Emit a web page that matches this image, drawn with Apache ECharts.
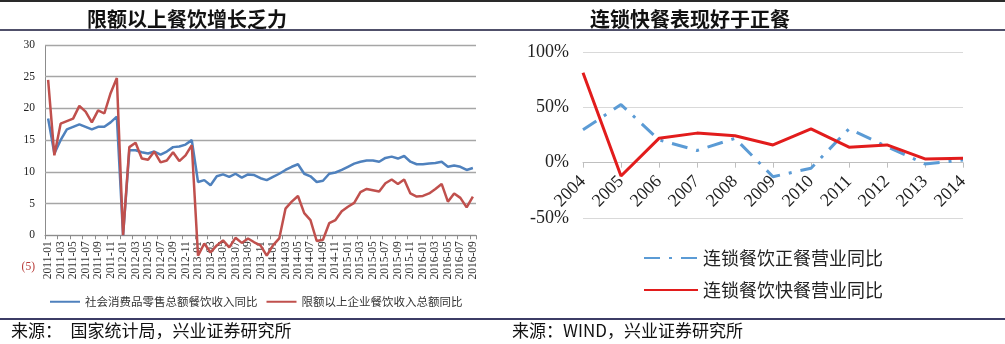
<!DOCTYPE html>
<html>
<head>
<meta charset="utf-8">
<script src="https://cdn.jsdelivr.net/npm/echarts@6/dist/echarts.min.js"></script>
<style>
  html, body { margin: 0; padding: 0; background: #fff; }
  #chart { width: 1005px; height: 344px; }
</style>
</head>
<body>
<div id="chart"></div>
<script>
// Monthly categories, 2011-01 .. 2016-09
const months = [
  '2011-01','2011-02','2011-03','2011-04','2011-05','2011-06','2011-07','2011-08','2011-09','2011-10','2011-11','2011-12',
  '2012-01','2012-02','2012-03','2012-04','2012-05','2012-06','2012-07','2012-08','2012-09','2012-10','2012-11','2012-12',
  '2013-01','2013-02','2013-03','2013-04','2013-05','2013-06','2013-07','2013-08','2013-09','2013-10','2013-11','2013-12',
  '2014-01','2014-02','2014-03','2014-04','2014-05','2014-06','2014-07','2014-08','2014-09','2014-10','2014-11','2014-12',
  '2015-01','2015-02','2015-03','2015-04','2015-05','2015-06','2015-07','2015-08','2015-09','2015-10','2015-11','2015-12',
  '2016-01','2016-02','2016-03','2016-04','2016-05','2016-06','2016-07','2016-08','2016-09'
];

// 社会消费品零售总额餐饮收入同比 (%)
const cateringTotal = [
  18.4, 12.9, 15.0, 16.7, 17.1, 17.5, 17.1, 16.7, 17.1, 17.1, 17.8, 18.7,
  0, 13.4, 13.4, 13.1, 12.9, 13.2, 12.7, 13.2, 13.9, 14.0, 14.3, 15.0,
  8.4, 8.7, 7.9, 9.3, 9.6, 9.2, 9.7, 9.1, 9.6, 9.5, 9.0, 8.7,
  9.2, 9.7, 10.3, 10.8, 11.2, 9.7, 9.3, 8.4, 8.6, 9.7, 9.9, 10.3,
  10.8, 11.3, 11.6, 11.8, 11.8, 11.6, 12.2, 12.4, 12.1, 12.5, 11.6, 11.2,
  11.2, 11.3, 11.4, 11.6, 10.8, 11.0, 10.8, 10.3, 10.6
];

// 限额以上企业餐饮收入总额同比 (%)
const cateringAbove = [
  24.5, 12.6, 17.6, 18.0, 18.4, 20.4, 19.5, 17.8, 19.7, 19.2, 22.4, 24.8,
  0, 13.9, 14.6, 12.1, 11.9, 13.2, 11.5, 11.8, 13.1, 11.7, 12.6, 14.2,
  -3.2, -1.3, -2.7, -1.6, -0.8, -1.9, -0.4, -1.2, -0.5, -1.1, -1.6, -3.2,
  -1.6, -0.5, 4.2, 5.3, 6.2, 3.5, 2.4, -0.9, -0.7, 1.9, 2.4, 3.8,
  4.5, 5.1, 6.8, 7.3, 7.1, 6.9, 8.2, 8.8, 8.1, 8.8, 6.6, 6.1,
  6.2, 6.6, 7.3, 8.1, 5.3, 6.6, 5.9, 4.4, 6.1
];

// Yearly categories for the chain-restaurant panel
const years = ['2004','2005','2006','2007','2008','2009','2010','2011','2012','2013','2014'];
// 连锁餐饮正餐营业同比 (%)
const chainFormal = [29.7, 52.5, 20.6, 11.0, 22.0, -12.7, -5.0, 30.6, 14.5, -1.2, 2.5];
// 连锁餐饮快餐营业同比 (%)
const chainFast = [81.3, -12.0, 22.0, 26.7, 24.3, 16.0, 30.6, 14.0, 16.0, 3.4, 4.0];

const SERIF = 'Liberation Serif';
const CJK = 'Noto Sans CJK SC';
const LEFT_GRID = { left: 45, top: 45, width: 431, height: 222 };
const RIGHT_GRID = { left: 583, top: 52, width: 380, height: 166 };
const LEFT_RANGE = { min: -5, max: 30, interval: 5 };
const RIGHT_RANGE = { min: -50, max: 100, interval: 50 };

// Category labels hang from the zero line, so pull them up by the
// distance between the grid bottom and zero on each panel.
const zeroGap = (grid, r) => grid.height * (0 - r.min) / (r.max - r.min);
const leftLabelMargin = 6 - zeroGap(LEFT_GRID, LEFT_RANGE);
const rightLabelMargin = 16 - zeroGap(RIGHT_GRID, RIGHT_RANGE);

const chart = echarts.init(document.getElementById('chart'), null, { renderer: 'canvas' });

const baseGraphics = [
  { id: 'topRule', type: 'line', shape: { x1: 0, y1: 1, x2: 1005, y2: 1 }, style: { stroke: '#2a2a2a', lineWidth: 2 } },
  { id: 'titleRule', type: 'line', shape: { x1: 0, y1: 30, x2: 1005, y2: 30 }, style: { stroke: '#50506a', lineWidth: 2 } },
  { id: 'footRule', type: 'line', shape: { x1: 0, y1: 319, x2: 1005, y2: 319 }, style: { stroke: '#3c3c66', lineWidth: 2 } },
  { id: 'srcLeft', type: 'text', left: 11, top: 322,
    style: { text: '来源：　国家统计局，兴业证券研究所', font: '17px "Noto Sans CJK SC"', fill: '#111' } },
  { id: 'srcRight', type: 'text', left: 512, top: 322,
    style: { text: '来源：WIND，兴业证券研究所', font: '17px "Noto Sans CJK SC"', fill: '#111' } }
];

const option = {
  animation: false,
  backgroundColor: '#fff',
  title: [
    { text: '限额以上餐饮增长乏力', left: 82, top: 4,
      textStyle: { fontFamily: CJK, fontSize: 20, fontWeight: 'bold', color: '#111' } },
    { text: '连锁快餐表现好于正餐', left: 585, top: 4,
      textStyle: { fontFamily: CJK, fontSize: 20, fontWeight: 'bold', color: '#111' } }
  ],
  legend: [
    {
      data: ['社会消费品零售总额餐饮收入同比', '限额以上企业餐饮收入总额同比'],
      left: 44, top: 291, itemWidth: 30, itemHeight: 12, itemGap: 8,
      itemStyle: { opacity: 0 },
      textStyle: { fontFamily: CJK, fontSize: 11.5, color: '#333' }
    },
    {
      data: ['连锁餐饮正餐营业同比', '连锁餐饮快餐营业同比'],
      orient: 'vertical', left: 638, top: 244, itemWidth: 54, itemHeight: 14, itemGap: 14,
      itemStyle: { opacity: 0 },
      textStyle: { fontFamily: CJK, fontSize: 18, color: '#222' }
    }
  ],
  grid: [
    Object.assign({ containLabel: false }, LEFT_GRID),
    Object.assign({ containLabel: false }, RIGHT_GRID)
  ],
  xAxis: [
    {
      type: 'category', gridIndex: 0, data: months, boundaryGap: true,
      axisLine: { onZero: true, lineStyle: { color: '#8c8c8c', width: 1 } },
      axisTick: { show: true, interval: 1, length: 4, lineStyle: { color: '#8c8c8c' } },
      axisLabel: { interval: 1, rotate: 90, margin: leftLabelMargin, fontFamily: SERIF, fontSize: 11.5, color: '#333' },
      splitLine: { show: false }
    },
    {
      type: 'category', gridIndex: 1, data: years, boundaryGap: false,
      axisLine: { onZero: true, lineStyle: { color: '#bfbfbf', width: 1 } },
      axisTick: { show: true, length: 5, lineStyle: { color: '#bfbfbf' } },
      axisLabel: { rotate: 45, margin: rightLabelMargin, fontFamily: SERIF, fontSize: 18, color: '#222' },
      splitLine: { show: false }
    }
  ],
  yAxis: [
    {
      type: 'value', gridIndex: 0, min: LEFT_RANGE.min, max: LEFT_RANGE.max, interval: LEFT_RANGE.interval,
      axisLine: { show: false }, axisTick: { show: false },
      splitLine: { show: true, showMinLine: false, lineStyle: { color: '#a6a6a6', width: 1.3 } },
      axisLabel: {
        margin: 10, fontFamily: SERIF, fontSize: 11.5, color: '#222',
        formatter: v => v < 0 ? '{neg|(' + Math.abs(v) + ')}' : String(v),
        rich: { neg: { color: '#b83b38', fontFamily: SERIF, fontSize: 11.5 } }
      }
    },
    {
      type: 'value', gridIndex: 1, min: RIGHT_RANGE.min, max: RIGHT_RANGE.max, interval: RIGHT_RANGE.interval,
      axisLine: { show: false }, axisTick: { show: false },
      splitLine: { show: true, lineStyle: { color: '#d9d9d9', width: 1 } },
      axisLabel: { margin: 14, fontFamily: SERIF, fontSize: 18, color: '#222', formatter: '{value}%' }
    }
  ],
  series: [
    {
      name: '社会消费品零售总额餐饮收入同比', type: 'line', xAxisIndex: 0, yAxisIndex: 0,
      data: cateringTotal, symbol: 'none', color: '#4f81bd',
      lineStyle: { color: '#4f81bd', width: 2.5 }
    },
    {
      name: '限额以上企业餐饮收入总额同比', type: 'line', xAxisIndex: 0, yAxisIndex: 0,
      data: cateringAbove, symbol: 'none', color: '#c0504d',
      lineStyle: { color: '#c0504d', width: 2.5 }
    },
    {
      name: '连锁餐饮正餐营业同比', type: 'line', xAxisIndex: 1, yAxisIndex: 1,
      data: chainFormal, symbol: 'none', color: '#5b9bd5',
      lineStyle: { color: '#5b9bd5', width: 3, type: [16, 9, 3, 9] }
    },
    {
      name: '连锁餐饮快餐营业同比', type: 'line', xAxisIndex: 1, yAxisIndex: 1,
      data: chainFast, symbol: 'none', color: '#e21c1c',
      lineStyle: { color: '#e21c1c', width: 3 }
    }
  ],
  graphic: baseGraphics
};

chart.setOption(option);

// Vertical value-axis line of the left panel, running from the top tick down to zero
const yTop = chart.convertToPixel({ yAxisIndex: 0 }, LEFT_RANGE.max);
const yZero = chart.convertToPixel({ yAxisIndex: 0 }, 0);
chart.setOption({
  graphic: baseGraphics.concat([
    { id: 'leftAxisLine', type: 'line',
      shape: { x1: LEFT_GRID.left + 0.5, y1: yTop, x2: LEFT_GRID.left + 0.5, y2: yZero },
      style: { stroke: '#8c8c8c', lineWidth: 1 } }
  ])
});
</script>
</body>
</html>
